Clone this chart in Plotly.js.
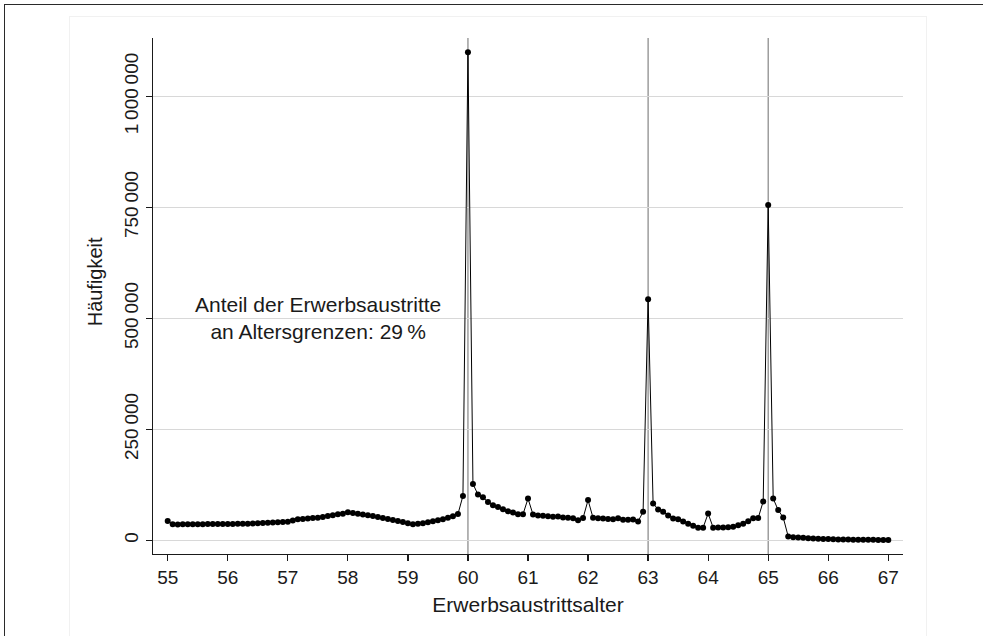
<!DOCTYPE html>
<html>
<head>
<meta charset="utf-8">
<script src="https://cdn.plot.ly/plotly-3.0.1.min.js"></script>
<style>
  html, body { margin: 0; padding: 0; background: #fff; }
  #wrap { position: relative; width: 983px; height: 636px; overflow: hidden; }
  #chart { position: absolute; left: 0; top: 0; width: 983px; height: 636px; }
  #outer { position: absolute; left: 4px; top: 4px; width: 1000px; height: 700px;
           border-top: 1.5px solid #2a2a2a; border-left: 1.5px solid #2a2a2a; pointer-events: none; }
  #inner { position: absolute; left: 69px; top: 16px; width: 856px; height: 700px;
           border: 1px solid #f1f1f1; pointer-events: none; }
</style>
</head>
<body>
<div id="wrap">
  <div id="chart"></div>
  <div id="inner"></div>
  <div id="outer"></div>
</div>
<script>
// Age at exit from employment (years, monthly steps)
const exitAge = [
  55, 55.0833, 55.1667, 55.25, 55.3333, 55.4167, 55.5, 55.5833, 55.6667, 55.75, 55.8333, 55.9167,
  56, 56.0833, 56.1667, 56.25, 56.3333, 56.4167, 56.5, 56.5833, 56.6667, 56.75, 56.8333, 56.9167,
  57, 57.0833, 57.1667, 57.25, 57.3333, 57.4167, 57.5, 57.5833, 57.6667, 57.75, 57.8333, 57.9167,
  58, 58.0833, 58.1667, 58.25, 58.3333, 58.4167, 58.5, 58.5833, 58.6667, 58.75, 58.8333, 58.9167,
  59, 59.0833, 59.1667, 59.25, 59.3333, 59.4167, 59.5, 59.5833, 59.6667, 59.75, 59.8333, 59.9167,
  60, 60.0833, 60.1667, 60.25, 60.3333, 60.4167, 60.5, 60.5833, 60.6667, 60.75, 60.8333, 60.9167,
  61, 61.0833, 61.1667, 61.25, 61.3333, 61.4167, 61.5, 61.5833, 61.6667, 61.75, 61.8333, 61.9167,
  62, 62.0833, 62.1667, 62.25, 62.3333, 62.4167, 62.5, 62.5833, 62.6667, 62.75, 62.8333, 62.9167,
  63, 63.0833, 63.1667, 63.25, 63.3333, 63.4167, 63.5, 63.5833, 63.6667, 63.75, 63.8333, 63.9167,
  64, 64.0833, 64.1667, 64.25, 64.3333, 64.4167, 64.5, 64.5833, 64.6667, 64.75, 64.8333, 64.9167,
  65, 65.0833, 65.1667, 65.25, 65.3333, 65.4167, 65.5, 65.5833, 65.6667, 65.75, 65.8333, 65.9167,
  66, 66.0833, 66.1667, 66.25, 66.3333, 66.4167, 66.5, 66.5833, 66.6667, 66.75, 66.8333, 66.9167,
  67
];

// Frequency (Häufigkeit) per month of age
const frequency = [
  43500, 36000, 35800, 35900, 36000, 36100, 36200, 36300, 36400, 36500, 36600, 36700,
  36800, 36900, 37000, 37200, 37400, 37800, 38300, 38800, 39300, 39800, 40400, 41000,
  41900, 44500, 47300, 48200, 49000, 50000, 51000, 52500, 54500, 56500, 58500, 60000,
  63000, 61500, 60000, 58300, 56500, 54500, 52300, 50000, 47800, 45500, 43300, 41000,
  38500, 36000, 37000, 38500, 40500, 42800, 45000, 47500, 50500, 54000, 59000, 100000,
  1099000, 127000, 103000, 97000, 86000, 79000, 75000, 70000, 65500, 62500, 58500, 58500,
  94000, 58000, 56000, 55000, 54000, 53000, 53500, 51500, 50500, 49500, 45000, 50000,
  90500, 50500, 49500, 48800, 48000, 47200, 49500, 46000, 46500, 47000, 42500, 64000,
  543000, 83000, 69500, 64000, 56000, 49000, 47500, 42500, 37000, 33000, 28000, 28500,
  60500, 28500, 29000, 29000, 29500, 30500, 34000, 37000, 43000, 49500, 50000, 87500,
  755000, 94000, 68000, 51500, 8500, 7000, 6200, 5500, 4800, 4200, 3600, 3100,
  2700, 2300, 2000, 1800, 1600, 1400, 1300, 1200, 1100, 1000, 900, 800,
  700
];

// Statutory age limits marked by reference lines
const ageLimits = [60, 63, 65];

// Tick labels
const xTickVals = [55, 56, 57, 58, 59, 60, 61, 62, 63, 64, 65, 66, 67];
const xTickText = ['55', '56', '57', '58', '59', '60', '61', '62', '63', '64', '65', '66', '67'];
const yTickVals = [0, 250000, 500000, 750000, 1000000];
const yTickText = ['0', '250\u2009000', '500\u2009000', '750\u2009000', '1\u2009000\u2009000'];

// Texts
const xTitle = 'Erwerbsaustrittsalter';
const yTitle = 'Häufigkeit';
const noteText = 'Anteil der Erwerbsaustritte<br>an Altersgrenzen: 29\u2009%';
const notePos = { x: 57.5, y: 500000 };

const FONT = '"Liberation Sans", Arial, Helvetica, sans-serif';
const INK = '#1a1a1a';

const trace = {
  type: 'scatter',
  mode: 'lines+markers',
  x: exitAge,
  y: frequency,
  line: { color: '#000', width: 1 },
  marker: { color: '#000', size: 6, symbol: 'circle' },
  hoverinfo: 'x+y',
  showlegend: false
};

const shapes = ageLimits.map(a => ({
  type: 'line', xref: 'x', yref: 'paper',
  x0: a, x1: a, y0: 0, y1: 1,
  line: { color: '#858585', width: 1.2 },
  layer: 'below'
}));

const layout = {
  width: 983, height: 636,
  margin: { l: 153, r: 80, t: 38, b: 82, pad: 0 },
  paper_bgcolor: '#fff',
  plot_bgcolor: '#fff',
  font: { family: FONT, color: INK },
  showlegend: false,
  xaxis: {
    range: [54.755, 67.245],
    tickmode: 'array', tickvals: xTickVals, ticktext: xTickText,
    ticks: 'outside', ticklen: 6, tickwidth: 1.2, tickcolor: INK,
    showline: true, linecolor: INK, linewidth: 1.3,
    showgrid: false, zeroline: false,
    tickfont: { family: FONT, size: 19, color: INK },
    title: { text: xTitle, font: { family: FONT, size: 21, color: INK }, standoff: 10 },
    automargin: false
  },
  yaxis: {
    range: [-30900, 1131300],
    tickmode: 'array', tickvals: yTickVals, ticktext: yTickText,
    tickangle: -90,
    ticks: 'outside', ticklen: 6, tickwidth: 1.2, tickcolor: INK,
    showline: true, linecolor: INK, linewidth: 1.3,
    showgrid: true, gridcolor: '#d8d8d8', gridwidth: 1.5,
    zeroline: false,
    tickfont: { family: FONT, size: 19, color: INK },
    automargin: false
  },
  shapes: shapes,
  annotations: [
    {
      x: notePos.x, y: notePos.y, xref: 'x', yref: 'y',
      text: noteText, showarrow: false, align: 'center',
      xanchor: 'center', yanchor: 'middle',
      font: { family: FONT, size: 21, color: INK }
    },
    {
      x: -0.077, y: 0.527, xref: 'paper', yref: 'paper',
      text: yTitle, showarrow: false, textangle: -90,
      xanchor: 'center', yanchor: 'middle',
      font: { family: FONT, size: 20, color: INK }
    }
  ]
};

Plotly.newPlot('chart', [trace], layout, { displayModeBar: false, staticPlot: true });
</script>
</body>
</html>
